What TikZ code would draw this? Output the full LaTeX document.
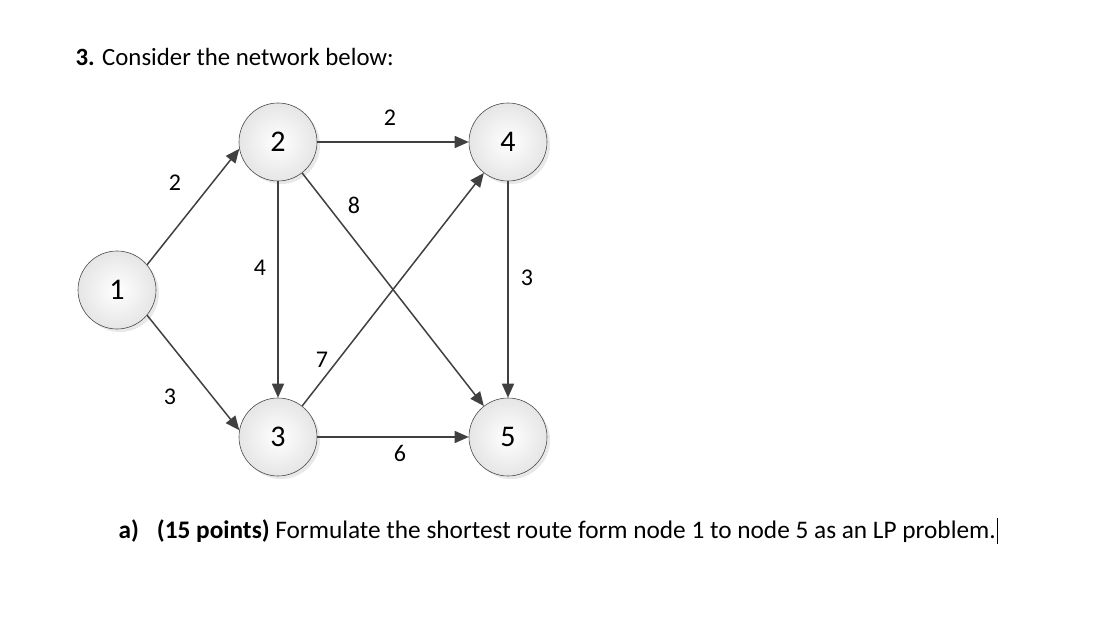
\documentclass[tikz,border=0pt]{standalone}
\usepackage{fontspec}
\setmainfont{Carlito}
\usetikzlibrary{arrows.meta,shadows}
\begin{document}
\begin{tikzpicture}[x=1pt,y=-1pt,
  nd/.style={circle,draw=black!70,line width=0.6pt,minimum size=78pt,inner sep=0pt,
    inner color=white,outer color=black!10,font=\fontsize{30}{30}\selectfont,
    drop shadow={shadow xshift=3pt,shadow yshift=-3pt,fill=black!18}},
  ed/.style={draw=black!75,line width=1.5pt,-{Triangle[length=14pt,width=12pt]}},
  lb/.style={font=\fontsize{24}{24}\selectfont}]
\useasboundingbox (0,0) rectangle (1117,631);
\node[anchor=west,font=\fontsize{24.8}{24.8}\selectfont] (t) at (72,57) {\textbf{3.} Consider the network below:};
\node[nd] (n1) at (117,290) {1};
\node[nd] (n2) at (278,142) {2};
\node[nd] (n4) at (508,142) {4};
\node[nd] (n3) at (278,437) {3};
\node[nd] (n5) at (508,437) {5};
\draw[ed] (n1.40) -- (n2.190);
\draw[ed] (n1.-40) -- (n3.170);
\draw[ed] (n2) -- (n4);
\draw[ed] (n2) -- (n3);
\draw[ed] (n2) -- (n5);
\draw[ed] (n3) -- (n4);
\draw[ed] (n4) -- (n5);
\draw[ed] (n3) -- (n5);
\node[lb] (l12) at (175,183) {2};
\node[lb] (l13) at (170,397) {3};
\node[lb] (l23) at (260,268) {4};
\node[lb] (l25) at (354,205) {8};
\node[lb] (l34) at (322,360) {7};
\node[lb] (l24) at (390,118) {2};
\node[lb] (l45) at (527,278) {3};
\node[lb] (l35) at (400,453) {6};
\node[anchor=west,font=\fontsize{25.3}{25.3}\selectfont] (q) at (115,531) {\textbf{a)}\hspace{18pt}\textbf{(15 points)} Formulate the shortest route form node 1 to node 5 as an LP problem.};
\draw[line width=0.8pt] (q.east)++(-2,-13) -- ++(0,26);
\end{tikzpicture}
\end{document}
